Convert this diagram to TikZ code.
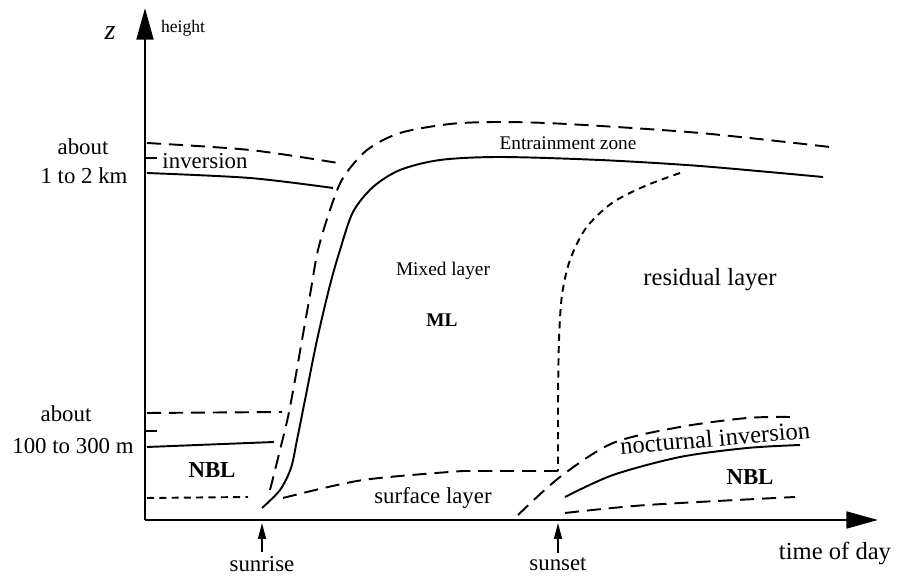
\documentclass[tikz,border=0pt]{standalone}
\usepackage{fontspec}
\setmainfont{Liberation Serif}
\usetikzlibrary{arrows.meta}
\tikzset{>=Triangle[]}

\begin{document}
\begin{tikzpicture}[x=0.02cm,y=-0.02cm,
    axis/.style={line width=1.6pt,-{Triangle[length=18pt,width=9.5pt]}},
    layerline/.style={line width=1.1pt},
    longdash/.style={layerline,dash pattern=on 8pt off 4.5pt},
    shortdash/.style={layerline,dash pattern=on 4pt off 3pt},
    timearrow/.style={line width=0.9pt,-{Triangle[length=9pt,width=4.5pt]}},
    lbl/.style={inner sep=0pt,font=\fontsize{13}{15}\selectfont},
    big/.style={inner sep=0pt,font=\fontsize{14}{16}\selectfont},
    small/.style={inner sep=0pt,font=\fontsize{11}{13}\selectfont}]
  \useasboundingbox (0,0) rectangle (897,577);

  \coordinate (O) at (145,520);
  \coordinate (ytop) at (145,8);
  \coordinate (xend) at (878,520);
  \draw[axis] (O) -- (ytop);
  \draw[axis] (O) -- (xend);

  \node[inner sep=0pt,font=\fontsize{16}{18}\selectfont\itshape] (zlbl) at (110,33) {z};
  \node[inner sep=0pt,font=\fontsize{10}{12}\selectfont] (hlbl) at (183,28) {height};
  \node[big] (tlbl) at (835,553) {time of day};

  \node[lbl] (about1) at (83,147) {about};
  \node[lbl] (km) at (84,176) {1 to 2 km};
  \node[lbl] (about2) at (66,414) {about};
  \node[lbl] (m) at (73,446) {100 to 300 m};

  \coordinate (sr) at (262,523);
  \coordinate (ss) at (558,523);
  \node[lbl] (sunrise) at (262,564) {sunrise};
  \node[lbl] (sunset) at (558,564) {sunset};
  \draw[timearrow] ([yshift=2.5pt]sunrise.north) -- (sr);
  \draw[timearrow] ([yshift=2.5pt]sunset.north) -- (ss);

  \foreach \y in {158, 431} {
    \draw[layerline] (145,\y) -- (157,\y);
  }

  \draw[longdash] plot[smooth] coordinates {(147,143) (250,150) (338,163)};
  \draw[layerline] plot[smooth] coordinates {(147,173) (250,178) (333,188)};
  \node[lbl] (inv) at (205,161) {inversion};

  \draw[longdash] (147,413) -- (282,412);
  \draw[layerline] (147,447) -- (274,442);
  \draw[shortdash] (147,498) -- (248,497);
  \node[inner sep=0pt,font=\fontsize{13}{15}\selectfont\bfseries] (nbl1) at (212,470) {NBL};

  \draw[layerline] plot[smooth] coordinates {(262,508) (280,490) (291,468) (297,440)
    (305,400) (317,340) (330,285) (340,250) (353,212) (373,187) (400,170) (440,160)
    (500,157) (600,160) (700,166) (823,177)};
  \draw[longdash] plot[smooth] coordinates {(270,490) (280,450) (288,417) (295,380)
    (302,340) (310,295) (318,250) (330,210) (343,178) (367,150) (400,133) (450,124)
    (500,122) (567,124) (700,133) (830,147)};
  \node[small] (ez) at (568,143) {Entrainment zone};
  \node[small] (mixed) at (443,271) {Mixed layer};
  \node[inner sep=0pt,font=\fontsize{11}{13}\selectfont\bfseries] (ml) at (442,320) {ML};

  \draw[shortdash] plot[smooth] coordinates {(680,173) (645,186) (612,203) (586,228)
    (570,260) (562,295) (559,340) (558,400)} -- (558,471);
  \node[big] (res) at (710,280) {residual layer};

  \draw[longdash] plot[smooth] coordinates {(283,498) (363,480) (463,471)} -- (558,471);
  \node[lbl] (surf) at (433,498) {surface layer};

  \draw[longdash] plot[smooth] coordinates {(518,515) (560,477) (613,443) (680,427)
    (747,418) (790,417)};
  \draw[layerline] plot[smooth] coordinates {(565,497) (613,475) (680,457) (747,448) (800,445)};
  \draw[longdash] plot[smooth] coordinates {(565,513) (647,505) (795,497)};
  \node[big,rotate=5] (noct) at (715,438) {nocturnal inversion};
  \node[inner sep=0pt,font=\fontsize{13}{15}\selectfont\bfseries] (nbl2) at (750,477) {NBL};
\end{tikzpicture}
\end{document}
